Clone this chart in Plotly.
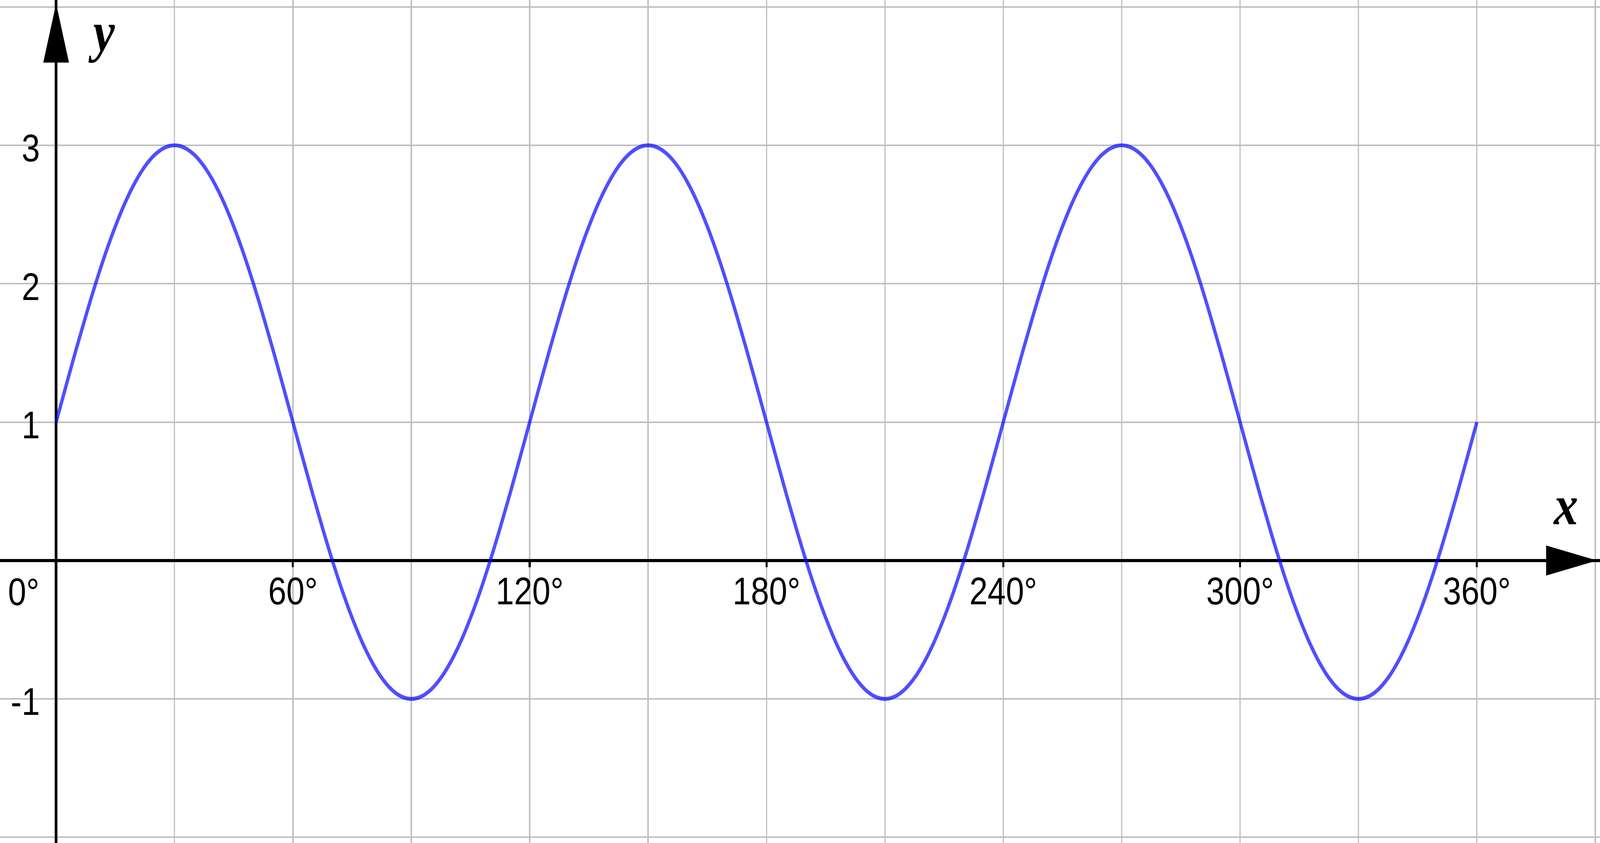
import plotly.graph_objects as go

# curve values, every 2.5 degrees from 0° to 360°
x_deg = [i * 2.5 for i in range(145)]
y_val = [
    1.000, 1.261, 1.518, 1.765, 2.000, 2.218, 2.414, 2.587, 2.732, 2.848, 2.932, 2.983,
    3.000, 2.983, 2.932, 2.848, 2.732, 2.587, 2.414, 2.218, 2.000, 1.765, 1.518, 1.261,
    1.000, 0.739, 0.482, 0.235, 0.000, -0.218, -0.414, -0.587, -0.732, -0.848, -0.932, -0.983,
    -1.000, -0.983, -0.932, -0.848, -0.732, -0.587, -0.414, -0.218, 0.000, 0.235, 0.482, 0.739,
    1.000, 1.261, 1.518, 1.765, 2.000, 2.218, 2.414, 2.587, 2.732, 2.848, 2.932, 2.983,
    3.000, 2.983, 2.932, 2.848, 2.732, 2.587, 2.414, 2.218, 2.000, 1.765, 1.518, 1.261,
    1.000, 0.739, 0.482, 0.235, 0.000, -0.218, -0.414, -0.587, -0.732, -0.848, -0.932, -0.983,
    -1.000, -0.983, -0.932, -0.848, -0.732, -0.587, -0.414, -0.218, 0.000, 0.235, 0.482, 0.739,
    1.000, 1.261, 1.518, 1.765, 2.000, 2.218, 2.414, 2.587, 2.732, 2.848, 2.932, 2.983,
    3.000, 2.983, 2.932, 2.848, 2.732, 2.587, 2.414, 2.218, 2.000, 1.765, 1.518, 1.261,
    1.000, 0.739, 0.482, 0.235, 0.000, -0.218, -0.414, -0.587, -0.732, -0.848, -0.932, -0.983,
    -1.000, -0.983, -0.932, -0.848, -0.732, -0.587, -0.414, -0.218, 0.000, 0.235, 0.482, 0.739,
    1.000,
]

x_ticks = [60, 120, 180, 240, 300, 360]
x_ticktext = ["60°", "120°", "180°", "240°", "300°", "360°"]
y_ticks = [-1, 1, 2, 3]
y_ticktext = ["-1", "1", "2", "3"]

X_RANGE = [-14.22, 391.2]
Y_RANGE = [-2.041, 4.05]

W, H = 4788, 2158
GRID = "#c0c0c0"
TICK_FONT = {"family": "Liberation Sans, Arial, sans-serif", "size": 98, "color": "black"}
LABEL_FONT = {
    "family": "Liberation Serif, Times New Roman, serif",
    "size": 145,
    "color": "black",
    "style": "italic",
    "weight": "bold",
}

fig = go.Figure()
fig.add_trace(
    go.Scatter(
        x=x_deg,
        y=y_val,
        mode="lines",
        line={
            "color": "rgba(0,0,255,0.69)",
            "width": 10,
            "shape": "spline",
            "smoothing": 1.0,
            "simplify": False,
        },
        hoverinfo="skip",
        showlegend=False,
    )
)

# where the axes cross zero, as fractions of the plot area
x_axis_pos = (0 - Y_RANGE[0]) / (Y_RANGE[1] - Y_RANGE[0])
y_axis_pos = (0 - X_RANGE[0]) / (X_RANGE[1] - X_RANGE[0])

fig.update_layout(
    width=W,
    height=H,
    margin={"l": 0, "r": 0, "t": 0, "b": 0},
    paper_bgcolor="white",
    plot_bgcolor="white",
    showlegend=False,
    xaxis={
        "range": X_RANGE,
        "anchor": "free",
        "position": x_axis_pos,
        "tickvals": x_ticks,
        "ticktext": x_ticktext,
        "tickfont": TICK_FONT,
        "ticks": "outside",
        "ticklen": 13,
        "tickwidth": 6,
        "tickcolor": "black",
        "ticklabelstandoff": -22,
        "showline": True,
        "linecolor": "black",
        "linewidth": 8,
        "showgrid": True,
        "gridcolor": GRID,
        "gridwidth": 4,
        "minor": {"tick0": 0, "dtick": 30, "showgrid": True, "gridcolor": GRID, "gridwidth": 4, "ticks": ""},
        "zeroline": False,
        "layer": "below traces",
        "automargin": False,
        "fixedrange": True,
    },
    yaxis={
        "range": Y_RANGE,
        "anchor": "free",
        "position": y_axis_pos,
        "tickvals": y_ticks,
        "ticktext": y_ticktext,
        "tickfont": TICK_FONT,
        "ticks": "",
        "ticklabelstandoff": 25,
        "ticklabelshift": 7,
        "showline": True,
        "linecolor": "black",
        "linewidth": 8,
        "showgrid": True,
        "gridcolor": GRID,
        "gridwidth": 4,
        "minor": {"tick0": 0, "dtick": 1, "showgrid": True, "gridcolor": GRID, "gridwidth": 4, "ticks": ""},
        "zeroline": False,
        "layer": "below traces",
        "automargin": False,
        "fixedrange": True,
    },
)

# arrow heads at the ends of the axes
fig.add_shape(
    type="path",
    path="M 390.3,0 L 377.6,0.107 L 377.6,-0.107 Z",
    xref="x", yref="y",
    fillcolor="black", line={"color": "black", "width": 1},
    layer="above",
)
fig.add_shape(
    type="path",
    path="M 0,4.019 L -3.2,3.599 L 3.2,3.599 Z",
    xref="x", yref="y",
    fillcolor="black", line={"color": "black", "width": 1},
    layer="above",
)

fig.add_annotation(
    x=0, y=0, xref="x", yref="y", text="0°", showarrow=False,
    xanchor="right", yanchor="top", xshift=-48, yshift=-23, font=TICK_FONT,
)
fig.add_annotation(
    x=382.5, y=0.40, xref="x", yref="y", text="x", showarrow=False,
    xanchor="center", yanchor="middle", font=LABEL_FONT,
)
fig.add_annotation(
    x=11.5, y=3.82, xref="x", yref="y", text="y", showarrow=False,
    xanchor="center", yanchor="middle", font=LABEL_FONT,
)

# the browser window may be smaller than the figure: scale the whole chart to fit it
fit_to_window = """
var gd = document.getElementById('{plot_id}');
document.documentElement.style.margin = '0';
document.documentElement.style.overflow = 'hidden';
document.body.style.margin = '0';
document.body.style.overflow = 'hidden';
var sx = window.innerWidth / %d, sy = window.innerHeight / %d;
gd.style.transformOrigin = '0 0';
gd.style.transform = 'scale(' + sx + ',' + sy + ')';
""" % (W, H)

fig.write_html("out.html", config={"displayModeBar": False}, post_script=fit_to_window)
